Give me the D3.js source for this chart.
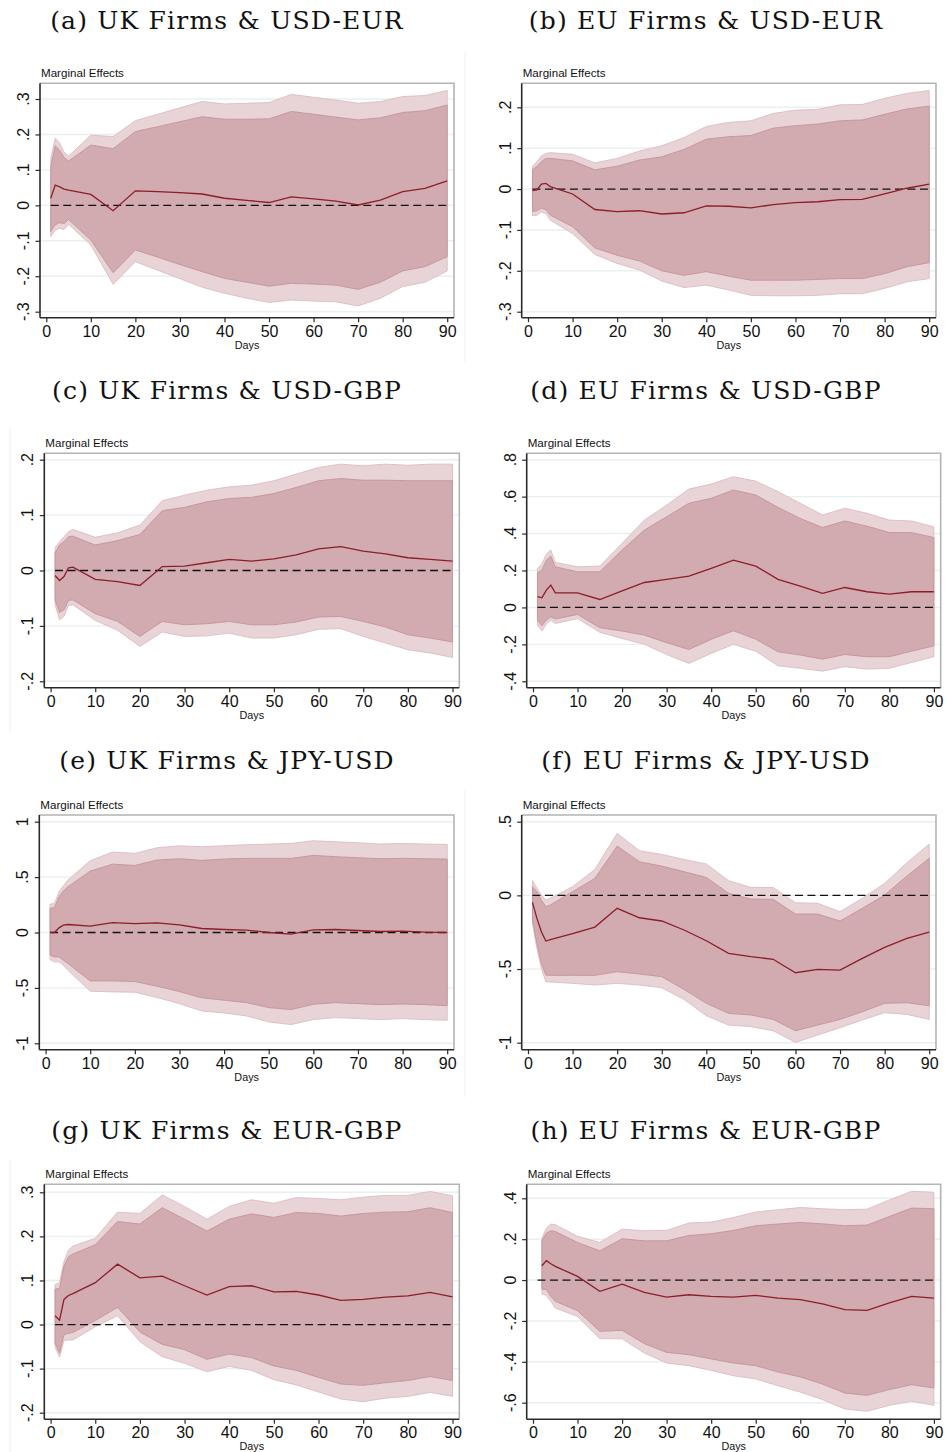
<!DOCTYPE html>
<html>
<head>
<meta charset="utf-8">
<script src="https://cdn.jsdelivr.net/npm/d3@7"></script>
<style>
  html, body { margin: 0; padding: 0; background: #ffffff; }
  svg { display: block; }
</style>
</head>
<body>
<div id="chart"></div>
<script>
// ---------------- DATA ----------------
const days  = [1,2,3,4,5,10,15,20,25,30,35,40,45,50,55,60,65,70,75,80,85,90];
const daysH = [2,3,4,5,10,15,20,25,30,35,40,45,50,55,60,65,70,75,80,85,90];
const xTicks = [0,10,20,30,40,50,60,70,80,90];

const titles = [
  "(a) UK Firms & USD-EUR", "(b) EU Firms & USD-EUR",
  "(c) UK Firms & USD-GBP", "(d) EU Firms & USD-GBP",
  "(e) UK Firms & JPY-USD", "(f) EU Firms & JPY-USD",
  "(g) UK Firms & EUR-GBP", "(h) EU Firms & EUR-GBP"
];

// y-axis ticks per panel
const ticksA = [-0.3,-0.2,-0.1,0,0.1,0.2,0.3];
const ticksB = [-0.3,-0.2,-0.1,0,0.1,0.2];
const ticksC = [-0.2,-0.1,0,0.1,0.2];
const ticksD = [-0.4,-0.2,0,0.2,0.4,0.6,0.8];
const ticksE = [-1,-0.5,0,0.5,1];
const ticksF = [-1,-0.5,0,0.5];
const ticksG = [-0.2,-0.1,0,0.1,0.2,0.3];
const ticksH = [-0.6,-0.4,-0.2,0,0.2,0.4];

// (a) UK Firms & USD-EUR
const aLine    = [0.020,0.057,0.052,0.046,0.043,0.031,-0.015,0.041,0.039,0.036,0.032,0.020,0.014,0.008,0.024,0.018,0.012,0.001,0.015,0.039,0.048,0.069];
const aInnerHi = [0.109,0.168,0.155,0.135,0.125,0.170,0.160,0.208,0.222,0.236,0.250,0.243,0.243,0.244,0.265,0.257,0.249,0.241,0.247,0.262,0.267,0.283];
const aInnerLo = [-0.074,-0.055,-0.049,-0.051,-0.040,-0.098,-0.190,-0.126,-0.146,-0.167,-0.187,-0.206,-0.217,-0.228,-0.220,-0.222,-0.225,-0.237,-0.217,-0.185,-0.173,-0.145];
const aOuterHi = [0.133,0.189,0.175,0.150,0.139,0.198,0.194,0.239,0.257,0.275,0.293,0.286,0.288,0.290,0.313,0.305,0.297,0.288,0.293,0.307,0.310,0.324];
const aOuterLo = [-0.088,-0.070,-0.065,-0.068,-0.053,-0.112,-0.223,-0.159,-0.183,-0.207,-0.231,-0.248,-0.262,-0.274,-0.267,-0.270,-0.272,-0.284,-0.262,-0.229,-0.217,-0.185];

// (b) EU Firms & USD-EUR
const bLine    = [-0.004,-0.002,0.012,0.014,0.006,-0.012,-0.050,-0.055,-0.053,-0.061,-0.058,-0.041,-0.042,-0.046,-0.038,-0.033,-0.031,-0.026,-0.025,-0.012,0.002,0.012];
const bInnerHi = [0.047,0.055,0.067,0.075,0.075,0.069,0.047,0.056,0.071,0.079,0.097,0.122,0.128,0.131,0.149,0.155,0.159,0.167,0.169,0.183,0.196,0.203];
const bInnerLo = [-0.055,-0.053,-0.047,-0.050,-0.064,-0.092,-0.144,-0.162,-0.176,-0.200,-0.211,-0.202,-0.213,-0.223,-0.223,-0.223,-0.221,-0.219,-0.219,-0.207,-0.190,-0.180];
const bOuterHi = [0.055,0.067,0.081,0.087,0.089,0.085,0.064,0.075,0.093,0.106,0.126,0.153,0.163,0.167,0.185,0.193,0.195,0.206,0.207,0.222,0.234,0.241];
const bOuterLo = [-0.065,-0.064,-0.056,-0.060,-0.076,-0.109,-0.160,-0.182,-0.198,-0.225,-0.241,-0.235,-0.247,-0.260,-0.261,-0.261,-0.260,-0.256,-0.256,-0.243,-0.227,-0.219];

// (c) UK Firms & USD-GBP
const cLine    = [-0.009,-0.018,-0.011,0.005,0.006,-0.016,-0.020,-0.027,0.007,0.008,0.014,0.020,0.017,0.021,0.028,0.039,0.043,0.035,0.030,0.023,0.020,0.017];
const cInnerHi = [0.032,0.046,0.052,0.061,0.062,0.046,0.054,0.065,0.108,0.114,0.124,0.130,0.132,0.139,0.150,0.162,0.166,0.163,0.163,0.162,0.162,0.162];
const cInnerLo = [-0.053,-0.076,-0.071,-0.054,-0.053,-0.078,-0.092,-0.119,-0.092,-0.098,-0.096,-0.092,-0.098,-0.098,-0.093,-0.084,-0.083,-0.092,-0.102,-0.116,-0.122,-0.129];
const cOuterHi = [0.041,0.052,0.061,0.070,0.074,0.060,0.068,0.082,0.126,0.136,0.145,0.151,0.154,0.162,0.174,0.186,0.192,0.189,0.192,0.190,0.192,0.192];
const cOuterLo = [-0.062,-0.089,-0.083,-0.063,-0.062,-0.090,-0.108,-0.137,-0.111,-0.119,-0.118,-0.113,-0.122,-0.122,-0.116,-0.106,-0.105,-0.119,-0.131,-0.143,-0.149,-0.157];

// (d) EU Firms & USD-GBP
const dLine    = [0.058,0.052,0.094,0.121,0.079,0.079,0.043,0.090,0.135,0.152,0.170,0.211,0.256,0.224,0.152,0.116,0.076,0.108,0.085,0.072,0.085,0.085];
const dInnerHi = [0.188,0.202,0.256,0.278,0.220,0.193,0.193,0.311,0.419,0.491,0.564,0.591,0.636,0.609,0.542,0.482,0.433,0.468,0.440,0.406,0.405,0.379];
const dInnerLo = [-0.069,-0.099,-0.069,-0.051,-0.063,-0.038,-0.110,-0.128,-0.150,-0.191,-0.228,-0.173,-0.126,-0.172,-0.240,-0.258,-0.280,-0.255,-0.267,-0.267,-0.237,-0.208];
const dOuterHi = [0.211,0.235,0.289,0.311,0.244,0.220,0.224,0.347,0.473,0.554,0.641,0.668,0.708,0.684,0.627,0.564,0.501,0.537,0.510,0.473,0.468,0.437];
const dOuterLo = [-0.096,-0.128,-0.090,-0.069,-0.087,-0.060,-0.135,-0.168,-0.200,-0.255,-0.303,-0.249,-0.200,-0.237,-0.316,-0.330,-0.345,-0.321,-0.334,-0.330,-0.298,-0.267];

// (e) UK Firms & JPY-USD
const eLine    = [0.000,0.000,0.042,0.066,0.072,0.057,0.090,0.081,0.087,0.069,0.036,0.027,0.021,0.000,-0.015,0.024,0.027,0.018,0.009,0.012,0.003,0.000];
const eInnerHi = [0.217,0.226,0.322,0.377,0.413,0.554,0.617,0.605,0.654,0.666,0.651,0.663,0.669,0.669,0.669,0.696,0.684,0.675,0.666,0.669,0.666,0.663];
const eInnerLo = [-0.205,-0.220,-0.220,-0.250,-0.280,-0.437,-0.437,-0.443,-0.485,-0.533,-0.590,-0.611,-0.633,-0.678,-0.696,-0.648,-0.633,-0.642,-0.651,-0.645,-0.651,-0.660];
const eOuterHi = [0.256,0.262,0.367,0.422,0.473,0.648,0.726,0.714,0.765,0.783,0.774,0.783,0.792,0.798,0.804,0.828,0.819,0.810,0.798,0.804,0.798,0.795];
const eOuterLo = [-0.244,-0.265,-0.265,-0.295,-0.340,-0.530,-0.536,-0.539,-0.587,-0.642,-0.708,-0.726,-0.753,-0.807,-0.831,-0.786,-0.768,-0.777,-0.786,-0.777,-0.786,-0.792];

// (f) EU Firms & JPY-USD
const fLine    = [-0.048,-0.156,-0.247,-0.310,-0.300,-0.260,-0.215,-0.088,-0.152,-0.174,-0.235,-0.308,-0.394,-0.416,-0.434,-0.525,-0.502,-0.507,-0.428,-0.353,-0.292,-0.249];
const fInnerHi = [0.059,0.025,-0.032,-0.077,-0.066,0.025,0.115,0.335,0.228,0.199,0.161,0.122,0.014,-0.025,-0.027,-0.127,-0.127,-0.174,-0.088,0.002,0.131,0.251];
const fInnerLo = [-0.167,-0.326,-0.462,-0.541,-0.543,-0.543,-0.543,-0.518,-0.534,-0.552,-0.638,-0.733,-0.801,-0.812,-0.842,-0.919,-0.880,-0.842,-0.790,-0.733,-0.729,-0.749];
const fOuterHi = [0.100,0.048,0.002,-0.032,-0.020,0.059,0.176,0.421,0.303,0.278,0.244,0.213,0.100,0.054,0.054,-0.050,-0.054,-0.111,-0.020,0.081,0.222,0.348];
const fOuterLo = [-0.190,-0.360,-0.495,-0.586,-0.588,-0.597,-0.609,-0.597,-0.609,-0.627,-0.706,-0.817,-0.880,-0.891,-0.919,-0.998,-0.948,-0.898,-0.846,-0.796,-0.808,-0.842];

// (g) UK Firms & EUR-GBP
const gLine    = [0.020,0.010,0.057,0.066,0.070,0.095,0.137,0.106,0.110,0.088,0.067,0.086,0.088,0.074,0.075,0.067,0.055,0.057,0.062,0.065,0.073,0.063];
const gInnerHi = [0.080,0.082,0.133,0.154,0.160,0.181,0.234,0.228,0.265,0.239,0.212,0.239,0.251,0.243,0.254,0.252,0.246,0.252,0.255,0.256,0.265,0.254];
const gInnerLo = [-0.042,-0.065,-0.023,-0.020,-0.018,0.009,0.039,-0.017,-0.045,-0.057,-0.079,-0.067,-0.075,-0.094,-0.104,-0.120,-0.135,-0.138,-0.132,-0.127,-0.118,-0.127];
const gOuterHi = [0.091,0.095,0.143,0.169,0.178,0.196,0.255,0.252,0.294,0.268,0.239,0.268,0.283,0.275,0.288,0.286,0.283,0.289,0.293,0.293,0.302,0.292];
const gOuterLo = [-0.052,-0.074,-0.036,-0.035,-0.035,-0.005,0.020,-0.039,-0.073,-0.088,-0.107,-0.095,-0.104,-0.125,-0.137,-0.153,-0.169,-0.175,-0.167,-0.163,-0.154,-0.163];

// (h) EU Firms & EUR-GBP  (starts at day 2)
const hLine    = [0.070,0.095,0.080,0.067,0.018,-0.055,-0.020,-0.060,-0.083,-0.072,-0.080,-0.083,-0.075,-0.088,-0.096,-0.116,-0.145,-0.148,-0.112,-0.080,-0.088];
const hInnerHi = [0.192,0.230,0.241,0.238,0.184,0.143,0.202,0.192,0.192,0.218,0.227,0.243,0.266,0.274,0.282,0.275,0.266,0.269,0.311,0.352,0.349];
const hInnerLo = [-0.044,-0.047,-0.080,-0.104,-0.150,-0.251,-0.246,-0.311,-0.354,-0.365,-0.386,-0.406,-0.419,-0.450,-0.474,-0.509,-0.553,-0.564,-0.536,-0.512,-0.528];
const hOuterHi = [0.205,0.254,0.274,0.271,0.214,0.184,0.249,0.241,0.243,0.279,0.284,0.306,0.333,0.344,0.355,0.349,0.344,0.347,0.392,0.434,0.430];
const hOuterLo = [-0.068,-0.075,-0.104,-0.137,-0.178,-0.287,-0.287,-0.357,-0.406,-0.419,-0.442,-0.468,-0.484,-0.517,-0.548,-0.585,-0.631,-0.642,-0.613,-0.593,-0.613];

const panels = [
  {x: days,  line: aLine, innerHi: aInnerHi, innerLo: aInnerLo, outerHi: aOuterHi, outerLo: aOuterLo, ticks: ticksA},
  {x: days,  line: bLine, innerHi: bInnerHi, innerLo: bInnerLo, outerHi: bOuterHi, outerLo: bOuterLo, ticks: ticksB},
  {x: days,  line: cLine, innerHi: cInnerHi, innerLo: cInnerLo, outerHi: cOuterHi, outerLo: cOuterLo, ticks: ticksC},
  {x: days,  line: dLine, innerHi: dInnerHi, innerLo: dInnerLo, outerHi: dOuterHi, outerLo: dOuterLo, ticks: ticksD},
  {x: days,  line: eLine, innerHi: eInnerHi, innerLo: eInnerLo, outerHi: eOuterHi, outerLo: eOuterLo, ticks: ticksE},
  {x: days,  line: fLine, innerHi: fInnerHi, innerLo: fInnerLo, outerHi: fOuterHi, outerLo: fOuterLo, ticks: ticksF},
  {x: days,  line: gLine, innerHi: gInnerHi, innerLo: gInnerLo, outerHi: gOuterHi, outerLo: gOuterLo, ticks: ticksG},
  {x: daysH, line: hLine, innerHi: hInnerHi, innerLo: hInnerLo, outerHi: hOuterHi, outerLo: hOuterLo, ticks: ticksH}
];

// ---------------- LAYOUT (pixel geometry of each panel) ----------------
const layout = [
  {L: 40.0,  R: 454.0, T: 83.3,   B: 317.7,  yTop: 99.0,   yBot: 311.7,  tx: 227, ty: 29,   edge: {x: 465, y0: 52,  y1: 362}},
  {L: 521.7, R: 936.0, T: 83.3,   B: 317.7,  yTop: 107.3,  yBot: 311.7,  tx: 706, ty: 29,   edge: null},
  {L: 44.3,  R: 459.3, T: 453.3,  B: 687.7,  yTop: 459.7,  yBot: 681.3,  tx: 227, ty: 399,  edge: {x: 10,  y0: 428, y1: 732}},
  {L: 526.7, R: 940.7, T: 453.3,  B: 687.7,  yTop: 459.7,  yBot: 681.3,  tx: 706, ty: 399,  edge: null},
  {L: 39.3,  R: 454.0, T: 815.0,  B: 1049.7, yTop: 821.7,  yBot: 1043.3, tx: 227, ty: 769,  edge: {x: 465, y0: 790, y1: 1097}},
  {L: 521.7, R: 936.0, T: 815.0,  B: 1049.7, yTop: 821.7,  yBot: 1042.7, tx: 706, ty: 769,  edge: null},
  {L: 44.3,  R: 459.3, T: 1184.3, B: 1419.3, yTop: 1192.3, yBot: 1412.7, tx: 227, ty: 1139, edge: {x: 10,  y0: 1160, y1: 1452}},
  {L: 526.7, R: 940.7, T: 1184.3, B: 1419.3, yTop: 1198.3, yBot: 1402.7, tx: 706, ty: 1139, edge: null}
];

const W = 947, H = 1452;
const COL = {
  outer: "#e8d3d6", outerEdge: "#dcbcc1",
  inner: "#d1abaf", innerEdge: "#c4949a",
  line: "#8c1e28", grid: "#e8f0f0",
  axis: "#2a2a2a", frame: "#b4b4b4", text: "#111111"
};
const sans = "'Liberation Sans', Arial, sans-serif";
const serif = "'DejaVu Serif', serif";
const fmt = v => {
  if (v === 0) return "0";
  return String(+v.toFixed(2)).replace(/^(-?)0\./, "$1.");
};

const svg = d3.select("#chart").append("svg")
  .attr("width", W).attr("height", H).attr("viewBox", `0 0 ${W} ${H}`);

panels.forEach((p, i) => {
  const lo = layout[i];
  const g = svg.append("g");

  const x = d3.scaleLinear().domain([0, 90]).range([lo.L + 6.3, lo.R - 6.8]);
  const y = d3.scaleLinear().domain([d3.min(p.ticks), d3.max(p.ticks)]).range([lo.yBot, lo.yTop]);

  // faint edge of the embedded picture
  if (lo.edge) {
    g.append("line")
      .attr("x1", lo.edge.x).attr("x2", lo.edge.x)
      .attr("y1", lo.edge.y0).attr("y2", lo.edge.y1)
      .attr("stroke", "#efefef").attr("stroke-width", 1);
  }

  // Title
  g.append("text")
    .attr("x", lo.tx).attr("y", lo.ty)
    .attr("text-anchor", "middle")
    .style("font-family", serif)
    .style("font-size", "25px")
    .style("letter-spacing", "1.2px")
    .attr("fill", "#111")
    .text(titles[i]);

  // "Marginal Effects"
  g.append("text")
    .attr("x", lo.L + 1).attr("y", lo.T - 6)
    .style("font-family", sans).style("font-size", "11.6px")
    .attr("fill", COL.text)
    .text("Marginal Effects");

  // grid lines
  g.append("g").selectAll("line").data(p.ticks).join("line")
    .attr("x1", lo.L).attr("x2", lo.R)
    .attr("y1", d => y(d)).attr("y2", d => y(d))
    .attr("stroke", COL.grid).attr("stroke-width", 1.4);

  // bands
  const idx = d3.range(p.x.length);
  const areaOuter = d3.area().x(j => x(p.x[j])).y0(j => y(p.outerLo[j])).y1(j => y(p.outerHi[j]));
  const areaInner = d3.area().x(j => x(p.x[j])).y0(j => y(p.innerLo[j])).y1(j => y(p.innerHi[j]));
  g.append("path").datum(idx).attr("d", areaOuter)
    .attr("fill", COL.outer).attr("stroke", COL.outerEdge).attr("stroke-width", 0.9);
  g.append("path").datum(idx).attr("d", areaInner)
    .attr("fill", COL.inner).attr("stroke", COL.innerEdge).attr("stroke-width", 0.9);

  // zero reference (dashed)
  g.append("line")
    .attr("x1", x(1)).attr("x2", x(90))
    .attr("y1", y(0)).attr("y2", y(0))
    .attr("stroke", "#111").attr("stroke-width", 1.3)
    .attr("stroke-dasharray", "8,4.5");

  // point estimate line
  const ln = d3.line().x(j => x(p.x[j])).y(j => y(p.line[j]));
  g.append("path").datum(idx).attr("d", ln)
    .attr("fill", "none").attr("stroke", COL.line).attr("stroke-width", 1.3);

  // frame (top / right light)
  g.append("path")
    .attr("d", `M${lo.L},${lo.T}H${lo.R}V${lo.B}`)
    .attr("fill", "none").attr("stroke", COL.frame).attr("stroke-width", 1.6);

  // y axis
  const yAxis = d3.axisLeft(y).tickValues(p.ticks).tickSize(4.5).tickFormat("");
  const ya = g.append("g").attr("transform", `translate(${lo.L},0)`).call(yAxis);
  ya.select(".domain").attr("d", `M0,${lo.T}V${lo.B}`).attr("stroke", COL.axis).attr("stroke-width", 1.6);
  ya.selectAll(".tick line").attr("stroke", COL.axis).attr("stroke-width", 1.2);
  g.append("g").selectAll("text").data(p.ticks).join("text")
    .attr("transform", d => `translate(${lo.L - 11},${y(d)}) rotate(-90)`)
    .attr("text-anchor", "middle")
    .style("font-family", sans).style("font-size", "16px")
    .attr("fill", COL.text)
    .text(fmt);

  // x axis
  const xAxis = d3.axisBottom(x).tickValues(xTicks).tickSize(4.5).tickFormat(d3.format("d"));
  const xa = g.append("g").attr("transform", `translate(0,${lo.B})`).call(xAxis);
  xa.select(".domain").attr("d", `M${lo.L},0H${lo.R}`).attr("stroke", COL.axis).attr("stroke-width", 1.6);
  xa.selectAll(".tick line").attr("stroke", COL.axis).attr("stroke-width", 1.2);
  xa.selectAll(".tick text")
    .attr("y", 0).attr("dy", 0)
    .attr("transform", "translate(0,19)")
    .style("font-family", sans).style("font-size", "16px")
    .attr("fill", COL.text);

  // "Days"
  g.append("text")
    .attr("x", (lo.L + lo.R) / 2).attr("y", lo.B + 31)
    .attr("text-anchor", "middle")
    .style("font-family", sans).style("font-size", "10.8px")
    .attr("fill", COL.text)
    .text("Days");
});
</script>
</body>
</html>
